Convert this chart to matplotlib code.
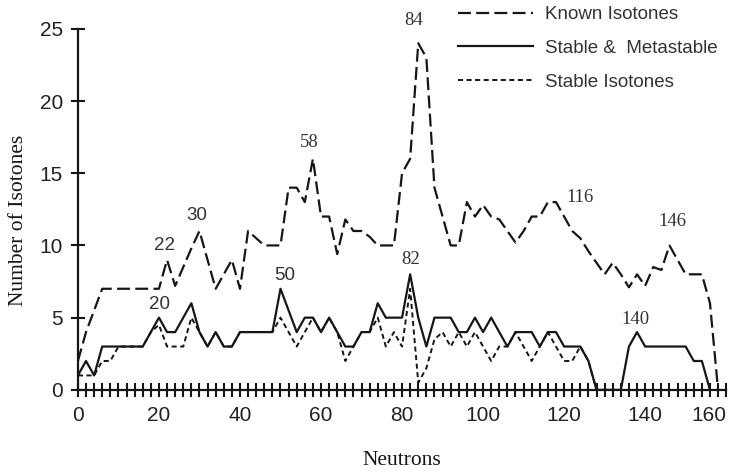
import matplotlib.pyplot as plt
from matplotlib.ticker import MultipleLocator

# neutron numbers (even N only, as in the figure)
n_known = list(range(0, 160, 2))
known = [2, 4, 5.5, 7, 7, 7, 7, 7, 7, 7,
         7, 9, 7.2, 8.5, 9.8, 11, 9, 7, 8, 9,
         7, 11, 10.5, 10, 10, 10, 14, 14, 13, 16,
         12, 12, 9.4, 11.8, 11, 11, 10.6, 10, 10, 10,
         15, 16, 24, 23, 14, 12, 10, 10, 13, 12,
         12.8, 12, 11.8, 11, 10.2, 11, 12, 12, 13, 13,
         12, 11, 10.5, 9.6, 8.8, 8, 8.8, 8, 7.1, 8,
         7.2, 8.5, 8.3, 10, 9, 8, 8, 8, 6, 0]

n_meta = list(range(0, 158, 2))
meta = [1, 2, 1, 3, 3, 3, 3, 3, 3, 4,
        5, 4, 4, 5, 6, 4, 3, 4, 3, 3,
        4, 4, 4, 4, 4, 7, 5.5, 4, 5, 5,
        4, 5, 4, 3, 3, 4, 4, 6, 5, 5,
        5, 8, 5, 3, 5, 5, 5, 4, 4, 5,
        4, 5, 4, 3, 4, 4, 4, 3, 4, 4,
        3, 3, 3, 2, 0, 0, 0, 0, 3, 4,
        3, 3, 3, 3, 3, 3, 2, 2, 0]

n_stable = list(range(0, 130, 2))
stable = [1, 1, 1, 2, 2, 3, 3, 3, 3, 4,
          4.5, 3, 3, 3, 5, 4, 3, 4, 3, 3,
          4, 4, 4, 4, 4, 5, 4, 3, 4, 5,
          4, 5, 4, 2, 3, 4, 4, 5, 3, 4,
          3, 7, 0.5, 1.5, 3.5, 4, 3, 4, 3, 4,
          3, 2, 3, 3, 4, 3, 2, 3, 4, 3,
          2, 2, 3, 2, 0]

x_ticks = [0, 20, 40, 60, 80, 100, 120, 140, 160]
y_ticks = [0, 5, 10, 15, 20, 25]

# peak labels: (text, series, N, offset in points, font)
peaks = [('22', 'known', 22, (-2, 10), 'sans'),
         ('30', 'known', 30, (-2, 11), 'sans'),
         ('58', 'known', 58, (-2.3, 11.5), 'serif'),
         ('84', 'known', 84, (-3.5, 16.6), 'serif'),
         ('116', 'known', 116, (23.3, 3.1), 'serif'),
         ('146', 'known', 146, (2.3, 17.1), 'serif'),
         ('20', 'meta', 20, (0.5, 9.4), 'sans'),
         ('50', 'meta', 50, (3, 9.4), 'sans'),
         ('82', 'meta', 82, (0.6, 10.4), 'serif'),
         ('140', 'meta', 138, (-1.4, 9.4), 'serif')]

sans = 'Liberation Sans'
serif = 'Liberation Serif'
ink = '#161616'

fig = plt.figure(figsize=(7.35, 4.72), dpi=100)
ax = fig.add_axes([0.106, 0.174, 0.882, 0.765])

l1, = ax.plot(n_known, known, color=ink, lw=1.6, dashes=(5.8, 2.4), label='Known Isotones')
l2, = ax.plot(n_meta, meta, color=ink, lw=1.6, label='Stable &  Metastable')
l3, = ax.plot(n_stable, stable, color=ink, lw=1.4, dashes=(2.6, 1.8), label='Stable Isotones')

series = {'known': (n_known, known), 'meta': (n_meta, meta)}
for txt, s, n, off, fam in peaks:
    xs, ys = series[s]
    y = ys[xs.index(n)]
    ax.annotate(txt, xy=(n, y), xytext=off, textcoords='offset points',
                ha='center', va='center', color='#333333',
                family=sans if fam == 'sans' else serif, fontsize=13.5)

ax.set_xlim(0, 160)
ax.set_ylim(0, 25)
for s in ['top', 'right']:
    ax.spines[s].set_visible(False)
for s in ['left', 'bottom']:
    ax.spines[s].set_linewidth(1.6)
    ax.spines[s].set_color(ink)

ax.set_xticks(x_ticks)
ax.set_yticks(y_ticks)
ax.xaxis.set_minor_locator(MultipleLocator(2))
ax.tick_params(axis='both', which='both', direction='inout', length=10, width=1.5, color=ink)
ax.tick_params(axis='x', which='major', pad=6.5)
ax.tick_params(axis='y', which='major', pad=5.8)
xlabs = ax.get_xticklabels()
for lab in xlabs + ax.get_yticklabels():
    lab.set_family(sans)
    lab.set_fontsize(15)
    lab.set_color('#222222')
# last label sits left of its tick, as in the original
xlabs[-1].set_horizontalalignment('right')

ax.set_ylabel('Number of Isotones', family=serif, fontsize=15.5, color=ink)
ax.yaxis.set_label_coords(-0.077, 0.47)
ax.set_xlabel('Neutrons', family=serif, fontsize=15.5, color=ink)
ax.xaxis.set_label_coords(0.5, -0.168)

leg = ax.legend(handles=[l1, l2, l3], loc='upper left', bbox_to_anchor=(458 / 735, 1 - 6 / 472),
                bbox_transform=fig.transFigure, frameon=False, borderpad=0, borderaxespad=0,
                handlelength=4.0, handletextpad=0.64, labelspacing=0.89,
                prop={'family': sans, 'size': 13.5})
for t in leg.get_texts():
    t.set_color('#333333')

fig.savefig('out.png', dpi=100)
